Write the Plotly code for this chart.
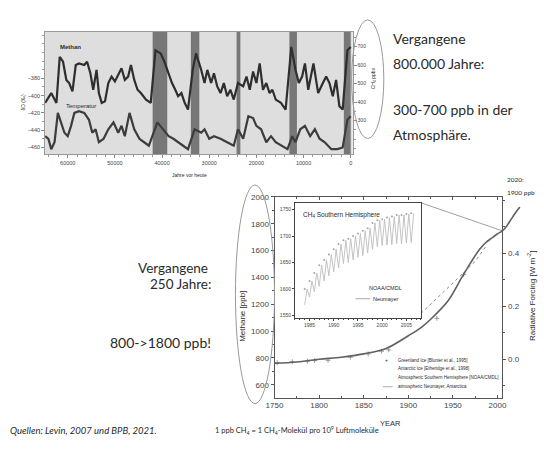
import plotly.graph_objects as go

W, H = 544, 456
def px(x): return x / W
def py(y): return 1 - y / H

# ---------------- top chart: ice core (years before present) ----------------
ch4_years = [64800, 63500, 62400, 61700, 61000, 60300, 59700, 59000, 58300, 57600,
             56500, 55900, 55200, 54600, 53900, 53400, 52800, 52100, 51400, 50700,
             50000, 49300, 48600, 47900, 47200, 46600, 45900, 45200, 44500, 43400,
             42400, 41400, 40300, 39500, 38600, 37900, 37200, 36600, 35900, 35200,
             34500, 33500, 32800, 31700, 31000, 30400, 29600, 29000, 28300, 27600,
             26900, 26200, 25500, 24800, 23900, 22800, 22100, 21400, 20700, 20000,
             19300, 18600, 17900, 17200, 16600, 15900, 14800, 13800, 12600, 11700,
             11000, 10300, 9700, 9000, 7900, 6900, 5900, 5200, 4500, 3800,
             3100, 2400, 1700, 700, 0]
ch4_ppbv = [396, 449, 396, 645, 618, 520, 503, 458, 600, 609,
            600, 618, 556, 467, 574, 449, 396, 405, 503, 538,
            512, 547, 583, 520, 538, 600, 520, 467, 449, 414,
            396, 680, 663, 618, 556, 503, 467, 432, 449, 396,
            360, 574, 663, 574, 503, 574, 503, 556, 485, 449,
            503, 432, 467, 414, 503, 485, 538, 467, 565, 503,
            609, 467, 503, 449, 467, 414, 396, 360, 698, 574,
            503, 538, 609, 467, 609, 449, 503, 538, 503, 432,
            520, 378, 360, 680, 698]

temp_years = [64800, 64100, 63500, 62800, 62100, 61400, 60700, 60000, 59300, 58600,
              57600, 56500, 55500, 54800, 54100, 53400, 52400, 51400, 50300, 49300,
              48600, 47900, 46900, 45900, 44800, 43800, 42800, 41000, 39700, 38600,
              37600, 36600, 35500, 34500, 33100, 31700, 31000, 30000, 29000, 27600,
              26200, 24800, 23900, 22800, 21700, 20700, 20000, 19000, 17900, 16900,
              15900, 14500, 13400, 12400, 11700, 10700, 9700, 8600, 7600, 6600,
              5500, 4100, 2800, 1700, 700, 0]
temp_dD = [-447, -450, -462, -454, -420, -431, -443, -447, -435, -420,
           -418, -420, -428, -443, -439, -454, -450, -439, -431, -443,
           -435, -447, -420, -439, -450, -454, -458, -431, -439, -447,
           -450, -454, -458, -462, -439, -443, -439, -450, -447, -450,
           -454, -458, -439, -450, -424, -426, -435, -439, -454, -447,
           -454, -458, -462, -447, -454, -439, -435, -447, -439, -450,
           -454, -462, -462, -460, -428, -424]

warm_band_start = [42000, 33900, 24200, 13000, 1450]
warm_band_end = [38900, 32100, 23400, 11400, 0]

top_x_ticks = [60000, 50000, 40000, 30000, 20000, 10000, 0]
top_x_labels = ["60000", "50000", "40000", "30000", "20000", "10000", "0"]
top_left_ticks = [-460, -440, -420, -400, -380]
top_right_ticks = [300, 400, 500, 600, 700]

# ---------------- bottom chart: 1750 - today ----------------
curve_years = [1750, 1775, 1800, 1825, 1850, 1875, 1900, 1915, 1930, 1945, 1960,
               1970, 1980, 1987, 1993, 2000, 2005, 2010, 2015, 2020, 2025]
curve_ppb = [760, 770, 790, 805, 830, 870, 965, 1030, 1120, 1230, 1400,
             1510, 1610, 1660, 1690, 1725, 1745, 1780, 1830, 1880, 1925]

dotted_years = [1914, 1935, 1955, 1975, 1988]
dotted_ppb = [1130, 1260, 1390, 1520, 1640]

greenland_years = [1753, 1770, 1787, 1795, 1810, 1835, 1855, 1870, 1878, 1932, 1962]
greenland_ppb = [765, 772, 775, 780, 782, 805, 830, 850, 860, 1095, 1420]

connector_years = [1914.5, 2005]
connector_ppb = [1955, 1748]

bottom_x_ticks = [1750, 1800, 1850, 1900, 1950, 2000]
bottom_y_ticks = [600, 800, 1000, 1200, 1400, 1600, 1800, 2000]
forcing_ticks = [0.0, 0.2, 0.4]
forcing_labels = ["0.0", "0.2", "0.4"]

# ---------------- inset: CH4 Southern Hemisphere ----------------
inset_years = [1984, 1985, 1986, 1987, 1988, 1989, 1990, 1991, 1992, 1993, 1994, 1995,
               1996, 1997, 1998, 1999, 2000, 2001, 2002, 2003, 2004, 2005, 2006]
inset_low = [1570, 1585, 1595, 1605, 1615, 1625, 1632, 1640, 1648, 1650, 1655, 1660,
             1663, 1668, 1675, 1680, 1682, 1683, 1684, 1686, 1685, 1687, 1688]
inset_high = [1600, 1615, 1630, 1645, 1655, 1665, 1675, 1685, 1692, 1695, 1700, 1705,
              1710, 1715, 1725, 1730, 1732, 1735, 1737, 1740, 1740, 1742, 1743]
inset_x_ticks = [1985, 1990, 1995, 2000, 2005]
inset_y_ticks = [1550, 1600, 1650, 1700, 1750]

zig_x, zig_y = [], []
for yr, lo, hi in zip(inset_years, inset_low, inset_high):
    zig_x += [yr, yr + 0.5]
    zig_y += [lo, hi]

fig = go.Figure()

# top chart traces
fig.add_trace(go.Scatter(x=temp_years, y=temp_dD, mode="lines", xaxis="x", yaxis="y",
                         line=dict(color="#3c3c3c", width=2.2)))
fig.add_trace(go.Scatter(x=ch4_years, y=ch4_ppbv, mode="lines", xaxis="x", yaxis="y2",
                         line=dict(color="#2e2e2e", width=2.2)))

# bottom chart traces
fig.add_trace(go.Scatter(x=dotted_years, y=dotted_ppb, mode="lines", xaxis="x2", yaxis="y3",
                         line=dict(color="#8a8a8a", width=1, dash="dot")))
fig.add_trace(go.Scatter(x=connector_years, y=connector_ppb, mode="lines", xaxis="x2", yaxis="y3",
                         line=dict(color="#a0a0a0", width=1)))
fig.add_trace(go.Scatter(x=greenland_years, y=greenland_ppb, mode="markers", xaxis="x2", yaxis="y3",
                         marker=dict(symbol="cross-thin", size=3.5, line=dict(color="#999", width=1))))
fig.add_trace(go.Scatter(x=[None], y=[None], xaxis="x2", yaxis="y4", mode="lines"))
fig.add_trace(go.Scatter(x=curve_years, y=curve_ppb, mode="lines", xaxis="x4", yaxis="y6",
                         line=dict(color="#606060", width=1.6, shape="spline")))

# inset traces
fig.add_trace(go.Scatter(x=zig_x, y=zig_y, mode="lines", xaxis="x3", yaxis="y5",
                         line=dict(color="#bdbdbd", width=0.9)))
fig.add_trace(go.Scatter(x=inset_years, y=inset_high, mode="markers", xaxis="x3", yaxis="y5",
                         marker=dict(size=2, color="#a5a5a5")))

main_x_range = [1750, 2005.5]
ext_max = main_x_range[0] + (main_x_range[1] - main_x_range[0]) * (530 - 272) / (505.5 - 272)

ax_font = dict(family="Liberation Sans", color="#444")
fig.update_layout(
    width=W, height=H, margin=dict(l=0, r=0, t=0, b=0),
    paper_bgcolor="white", plot_bgcolor="rgba(0,0,0,0)", showlegend=False,
    font=dict(family="Liberation Sans", color="#333"),
    xaxis=dict(domain=[px(37), px(352)], range=[64800, -400], anchor="y",
               tickvals=top_x_ticks, ticktext=top_x_labels, tickfont=dict(size=5.5, **ax_font),
               ticks="outside", ticklen=3, tickcolor="#888", showline=True, linecolor="#999",
               mirror=True, showgrid=False, zeroline=False,
               minor=dict(ticks="outside", ticklen=2, dtick=2000, tickcolor="#999")),
    yaxis=dict(domain=[py(152), py(28)], range=[-468, -326], anchor="x",
               tickvals=top_left_ticks, tickfont=dict(size=5.5, **ax_font), ticks="outside",
               ticklen=3, tickcolor="#888", showline=True, linecolor="#999",
               showgrid=False, zeroline=False,
               minor=dict(ticks="outside", ticklen=2, dtick=10, tickcolor="#999")),
    yaxis2=dict(overlaying="y", side="right", range=[118.7, 780], anchor="x",
                tickvals=top_right_ticks, tickfont=dict(size=5, **ax_font), ticks="outside",
                ticklen=3, tickcolor="#888", showline=True, linecolor="#999",
                showgrid=False, zeroline=False,
                minor=dict(ticks="outside", ticklen=2, dtick=50, tickcolor="#999")),
    xaxis2=dict(domain=[px(272), px(505.5)], range=main_x_range, anchor="y3",
                tickvals=bottom_x_ticks, tickfont=dict(size=8, **ax_font), ticks="inside",
                ticklen=3, tickcolor="#555", showline=True, linecolor="#555", mirror="ticks",
                showgrid=False, zeroline=False,
                minor=dict(ticks="inside", ticklen=2, dtick=25, tickcolor="#555")),
    yaxis3=dict(domain=[py(398), py(195)], range=[504, 2000], anchor="x2",
                tickvals=bottom_y_ticks, tickfont=dict(size=8, **ax_font), ticks="outside",
                ticklen=3, tickcolor="#555", showline=True, linecolor="#555",
                showgrid=False, zeroline=False,
                minor=dict(ticks="outside", ticklen=2, dtick=100, tickcolor="#555")),
    yaxis4=dict(overlaying="y3", side="right", range=[-0.146, 0.613], anchor="x2",
                tickvals=forcing_ticks, ticktext=forcing_labels, tickfont=dict(size=8, **ax_font),
                ticks="outside", ticklen=3, tickcolor="#555", showline=True, linecolor="#555",
                showgrid=False, zeroline=False,
                minor=dict(ticks="outside", ticklen=2, dtick=0.1, tickcolor="#555")),
    xaxis3=dict(domain=[px(293), px(422)], range=[1982, 2008], anchor="y5",
                tickvals=inset_x_ticks, tickfont=dict(size=5, **ax_font), ticks="outside",
                ticklen=2, tickcolor="#444", showline=True, linecolor="#444", mirror=True,
                showgrid=False, zeroline=False,
                minor=dict(ticks="outside", ticklen=1.5, dtick=1, tickcolor="#444")),
    yaxis5=dict(domain=[py(317), py(201)], range=[1546, 1763], anchor="x3",
                tickvals=inset_y_ticks, tickfont=dict(size=5, **ax_font), ticks="outside",
                ticklen=2, tickcolor="#444", showline=True, linecolor="#444", mirror=True,
                showgrid=False, zeroline=False),
    xaxis4=dict(domain=[px(272), px(530)], range=[1750, ext_max], anchor="y6", visible=False),
    yaxis6=dict(domain=[py(398), py(195)], range=[504, 2000], anchor="x4", visible=False),
)

shapes = []
# gray background of the ice-core panel
shapes.append(dict(type="rect", xref="paper", yref="paper", x0=px(37), x1=px(352),
                   y0=py(152), y1=py(28), fillcolor="#dedede", line=dict(width=0), layer="below"))
for s, e in zip(warm_band_start, warm_band_end):
    shapes.append(dict(type="rect", xref="x", yref="y domain", x0=s, x1=e, y0=0, y1=1,
                       fillcolor="#777777", line=dict(width=0), layer="below"))
# white inset background
shapes.append(dict(type="rect", xref="paper", yref="paper", x0=px(293), x1=px(422),
                   y0=py(317), y1=py(201), fillcolor="white", line=dict(width=0), layer="below"))
# ellipses
shapes.append(dict(type="circle", xref="paper", yref="paper", x0=px(351), x1=px(384),
                   y0=py(136), y1=py(16), line=dict(color="#999", width=1)))
shapes.append(dict(type="circle", xref="paper", yref="paper", x0=px(232), x1=px(272),
                   y0=py(404), y1=py(183), line=dict(color="#999", width=1)))
# inset legend line sample
shapes.append(dict(type="line", xref="paper", yref="paper", x0=px(355), x1=px(370),
                   y0=py(298), y1=py(298), line=dict(color="#aaa", width=1)))
# bottom legend line sample
shapes.append(dict(type="line", xref="paper", yref="paper", x0=px(383), x1=px(393),
                   y0=py(387), y1=py(387), line=dict(color="#aaa", width=1)))
fig.update_layout(shapes=shapes)

ann = []
def text(x, y, t, size, anchor="left", family="Lato", color="#2a2a2a", angle=0, italic=False):
    if italic:
        t = "<i>" + t + "</i>"
    ann.append(dict(x=px(x), y=py(y), xref="paper", yref="paper", text=t, showarrow=False,
                    xanchor=anchor, yanchor="middle", textangle=angle, borderpad=0,
                    font=dict(size=size, family=family, color=color)))

# slide texts
text(392, 35, "Vergangene", 14)
text(392, 60, "800.000 Jahre:", 14)
text(392, 107, "300-700 ppb in der", 14)
text(392, 132, "Atmosphäre.", 14)
text(205, 266.5, "Vergangene", 13.5, anchor="right")
text(208, 283, "250 Jahre:", 13.5, anchor="right")
text(208, 342, "800->1800 ppb!", 14, anchor="right")
text(0, 431, "Quellen: Levin, 2007 und BPB, 2021.", 9.5, italic=True)
text(210, 431, "1 ppb CH<sub>4</sub> = 1 CH<sub>4</sub>-Molekül pro 10<sup>9</sup> Luftmoleküle", 7.5)
text(509, 177, "2020:", 6.5)
text(509, 191, "1900 ppb", 6.5)

# top chart labels
F = "Liberation Sans"
text(63, 43, "<b>Methan</b>", 6, anchor="center", family=F)
text(74, 103, "Temperatur", 6, anchor="center", family=F)
text(185, 173, "Jahre vor heute", 5, anchor="center", family=F)
text(14, 100, "δD (‰)", 5, anchor="center", family=F, angle=-90)
text(373, 75, "CH<sub>4</sub> ppbv", 5, anchor="center", family=F, angle=-90)

# bottom chart labels
text(391, 424, "YEAR", 7.5, anchor="center", family=F)
text(239, 316, "Methane [ppb]", 8, anchor="center", family=F, angle=-90)
text(535, 295, "Radiative Forcing [W m<sup>-2</sup>]", 8, anchor="center", family=F, angle=-90)
text(300, 213, "CH<sub>4</sub> Southern Hemisphere", 6.5, family=F)
text(404, 287, "NOAA/CMDL", 5.5, anchor="right", family=F)
text(372, 298, "Neumayer", 5.5, family=F)
text(387, 360, "+", 5, anchor="center", family=F)
text(397, 360, "Greenland Ice [Blunier et al., 1995]", 4.5, family=F)
text(397, 369, "Antarctic Ice [Etheridge et al., 1998]", 4.5, family=F)
text(397, 378, "Atmospheric Southern Hemisphere [NOAA/CMDL]", 4.5, family=F)
text(397, 387, "atmospheric Neumayer, Antarctica", 4.5, family=F)

fig.update_layout(annotations=ann)
fig.write_html("out.html", config={"displayModeBar": False},
               post_script="document.body.style.margin='0';document.body.style.overflow='hidden';")
